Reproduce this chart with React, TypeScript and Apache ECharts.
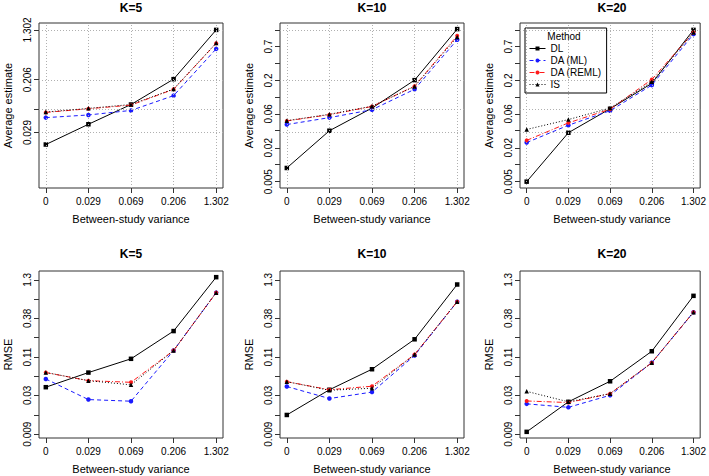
import React, { useEffect, useRef } from "react";
import * as echarts from "echarts";

// ---------- data ----------
const xLabels = ["0", "0.029", "0.069", "0.206", "1.302"];
const methods = ["DL", "DA (ML)", "DA (REML)", "IS"];
const panelTitles = ["K=5", "K=10", "K=20"];

// Average estimate (top row)
const avgK5_DL = [0.0186, 0.0394, 0.0819, 0.2096, 1.3];
const avgK5_ML = [0.0504, 0.0556, 0.0658, 0.1138, 0.644];
const avgK5_REML = [0.0611, 0.07, 0.0802, 0.144, 0.79];
const avgK5_IS = [0.062, 0.071, 0.082, 0.145, 0.8];

const avgK10_DL = [0.0078, 0.031, 0.0718, 0.202, 1.34];
const avgK10_ML = [0.039, 0.0504, 0.0675, 0.144, 0.904];
const avgK10_REML = [0.0446, 0.0562, 0.0762, 0.162, 1.05];
const avgK10_IS = [0.045, 0.057, 0.077, 0.16, 1.0];

const avgK20_DL = [0.0047, 0.0288, 0.07, 0.179, 1.3];
const avgK20_ML = [0.02, 0.038, 0.065, 0.168, 1.11];
const avgK20_REML = [0.0217, 0.0415, 0.069, 0.207, 1.18];
const avgK20_IS = [0.0325, 0.0469, 0.0718, 0.19, 1.18];

// RMSE (bottom row)
const rmseK5_DL = [0.0403, 0.0647, 0.101, 0.248, 1.42];
const rmseK5_ML = [0.0526, 0.027, 0.0256, 0.132, 0.861];
const rmseK5_REML = [0.0647, 0.0498, 0.0472, 0.132, 0.861];
const rmseK5_IS = [0.065, 0.0498, 0.0435, 0.132, 0.86];

const rmseK10_DL = [0.0164, 0.0371, 0.0721, 0.19, 1.12];
const rmseK10_ML = [0.0412, 0.0279, 0.0344, 0.1125, 0.641];
const rmseK10_REML = [0.0482, 0.0371, 0.0416, 0.116, 0.641];
const rmseK10_IS = [0.0482, 0.0365, 0.039, 0.116, 0.641];

const rmseK20_DL = [0.0095, 0.0251, 0.0488, 0.129, 0.776];
const rmseK20_ML = [0.0235, 0.021, 0.031, 0.0889, 0.457];
const rmseK20_REML = [0.0258, 0.0245, 0.0327, 0.0889, 0.457];
const rmseK20_IS = [0.0352, 0.0251, 0.0327, 0.0889, 0.457];

// y tick positions / labels
const trueVariances = [1.302, 0.206, 0.069, 0.029];
const k5TickValues = [1.302, 0.206, 0.069, 0.029];
const k5TickLabels = ["1.302", "0.206", "", "0.029"];
const topTickValues = [1.3, 0.7, 0.375, 0.2, 0.107, 0.058, 0.031, 0.0165, 0.0088, 0.0047];
const topTickLabels = ["", "0.7", "", "0.2", "", "0.06", "", "0.02", "", "0.005"];
const bottomTickValues = [1.3, 0.7, 0.375, 0.2, 0.107, 0.058, 0.031, 0.0165, 0.0088];
const bottomTickLabels = ["1.3", "", "0.38", "", "0.11", "", "0.03", "", "0.009"];

// ---------- layout / style ----------
const FONT = "'Liberation Sans', Arial, Helvetica, sans-serif";
const colLeft = [39, 280, 520];
const boxW = 184;
const rowTop = [23, 271];
const boxH = [165, 167];
const yRange = [
  [-2.43, 0.225],
  [-2.109, 0.239],
];

const seriesStyle = [
  { color: "#000000", type: "solid", symbol: "rect", size: 4.5 },
  { color: "#1a1aff", type: [4, 3], symbol: "circle", size: 4.5 },
  { color: "#ff1a1a", type: [5, 2, 1, 2], symbol: "circle", size: 4 },
  { color: "#000000", type: [1, 2], symbol: "triangle", size: 4.5 },
];

export default function App() {
  const ref = useRef<HTMLDivElement>(null);
  useEffect(() => {
    if (!ref.current) return;
    const chart = echarts.init(ref.current, null, { renderer: "svg" });

    const panels = [
      { row: 0, col: 0, data: [avgK5_DL, avgK5_ML, avgK5_REML, avgK5_IS], tv: k5TickValues, tl: k5TickLabels },
      { row: 0, col: 1, data: [avgK10_DL, avgK10_ML, avgK10_REML, avgK10_IS], tv: topTickValues, tl: topTickLabels },
      { row: 0, col: 2, data: [avgK20_DL, avgK20_ML, avgK20_REML, avgK20_IS], tv: topTickValues, tl: topTickLabels },
      { row: 1, col: 0, data: [rmseK5_DL, rmseK5_ML, rmseK5_REML, rmseK5_IS], tv: bottomTickValues, tl: bottomTickLabels },
      { row: 1, col: 1, data: [rmseK10_DL, rmseK10_ML, rmseK10_REML, rmseK10_IS], tv: bottomTickValues, tl: bottomTickLabels },
      { row: 1, col: 2, data: [rmseK20_DL, rmseK20_ML, rmseK20_REML, rmseK20_IS], tv: bottomTickValues, tl: bottomTickLabels },
    ];

    const grid: any[] = [];
    const xAxis: any[] = [];
    const yAxis: any[] = [];
    const series: any[] = [];
    const graphic: any[] = [];

    panels.forEach((p, i) => {
      const left = colLeft[p.col];
      const top = rowTop[p.row];
      const h = boxH[p.row];
      grid.push({
        left,
        top,
        width: boxW,
        height: h,
        show: true,
        borderColor: "#333",
        borderWidth: 1,
        backgroundColor: "transparent",
        containLabel: false,
      });
      xAxis.push({
        type: "value",
        gridIndex: i,
        position: "bottom",
        min: -0.16,
        max: 4.16,
        axisLine: { show: false, onZero: false },
        splitLine: { show: false },
        axisTick: { show: true, length: 5, lineStyle: { color: "#333" }, customValues: [0, 1, 2, 3, 4] },
        axisLabel: {
          show: true,
          customValues: [0, 1, 2, 3, 4],
          formatter: (v: number) => xLabels[Math.round(v)] ?? "",
          fontFamily: FONT,
          fontSize: 10,
          color: "#000",
          margin: 8,
        },
      });
      const logTicks = p.tv.map((v) => Math.log10(v));
      const labels = p.tl;
      yAxis.push({
        type: "value",
        gridIndex: i,
        position: "left",
        min: yRange[p.row][0],
        max: yRange[p.row][1],
        axisLine: { show: false, onZero: false },
        splitLine: { show: false },
        axisTick: { show: true, length: 5, lineStyle: { color: "#333" }, customValues: logTicks },
        axisLabel: {
          show: true,
          customValues: logTicks,
          rotate: 90,
          formatter: (v: number) => {
            let best = 0;
            let bd = Infinity;
            logTicks.forEach((t, k) => {
              const d = Math.abs(t - v);
              if (d < bd) {
                bd = d;
                best = k;
              }
            });
            return labels[best];
          },
          fontFamily: FONT,
          fontSize: 10,
          color: "#000",
          margin: 7,
        },
      });

      // dotted reference grid (top row only)
      if (p.row === 0) {
        series.push({
          type: "line",
          name: "grid" + i,
          xAxisIndex: i,
          yAxisIndex: i,
          data: [],
          silent: true,
          z: 1,
          markLine: {
            silent: true,
            symbol: ["none", "none"],
            label: { show: false },
            lineStyle: { color: "#b0b0b0", type: [1, 2], width: 1 },
            data: [
              ...trueVariances.map((v) => ({ yAxis: Math.log10(v) })),
              ...[0, 1, 2, 3, 4].map((x) => ({ xAxis: x })),
            ],
          },
        });
      }

      p.data.forEach((arr, m) => {
        const st = seriesStyle[m];
        series.push({
          type: "line",
          name: methods[m],
          xAxisIndex: i,
          yAxisIndex: i,
          data: arr.map((v, k) => [k, Math.log10(v)]),
          symbol: st.symbol,
          symbolSize: st.size,
          showSymbol: true,
          z: 3 + m,
          itemStyle: { color: st.color },
          lineStyle: { color: st.color, width: 1, type: st.type },
        });
      });

      const cx = left + boxW / 2;
      graphic.push({
        type: "text",
        x: cx,
        y: top - (p.row === 0 ? 15 : 17),
        style: {
          text: panelTitles[p.col],
          font: `bold 12px ${FONT}`,
          fill: "#000",
          textAlign: "center",
          textVerticalAlign: "middle",
        },
      });
      graphic.push({
        type: "text",
        x: cx,
        y: top + h + 31,
        style: {
          text: "Between-study variance",
          font: `11px ${FONT}`,
          fill: "#000",
          textAlign: "center",
          textVerticalAlign: "middle",
        },
      });
      graphic.push({
        type: "text",
        x: left - 31,
        y: top + h / 2,
        rotation: Math.PI / 2,
        style: {
          text: p.row === 0 ? "Average estimate" : "RMSE",
          font: `11px ${FONT}`,
          fill: "#000",
          textAlign: "center",
          textVerticalAlign: "middle",
        },
      });
    });

    graphic.push({
      type: "text",
      x: 564,
      y: 36,
      z: 100,
      style: {
        text: "Method",
        font: `10px ${FONT}`,
        fill: "#000",
        textAlign: "center",
        textVerticalAlign: "middle",
      },
    });

    chart.setOption({
      animation: false,
      backgroundColor: "#ffffff",
      textStyle: { fontFamily: FONT },
      grid,
      xAxis,
      yAxis,
      series,
      graphic,
      legend: {
        data: methods,
        orient: "vertical",
        left: 525,
        top: 28,
        padding: [15, 5, 3, 4],
        itemGap: 1,
        itemWidth: 16,
        itemHeight: 5,
        backgroundColor: "#ffffff",
        borderColor: "#000",
        borderWidth: 1,
        borderRadius: 0,
        selectedMode: false,
        lineStyle: { width: 1 },
        textStyle: { fontFamily: FONT, fontSize: 10, color: "#000", lineHeight: 11 },
      },
    });
    return () => chart.dispose();
  }, []);
  return (
    <div
      ref={ref}
      style={{ position: "fixed", left: 0, top: 0, width: 709, height: 476, background: "#fff" }}
    />
  );
}
